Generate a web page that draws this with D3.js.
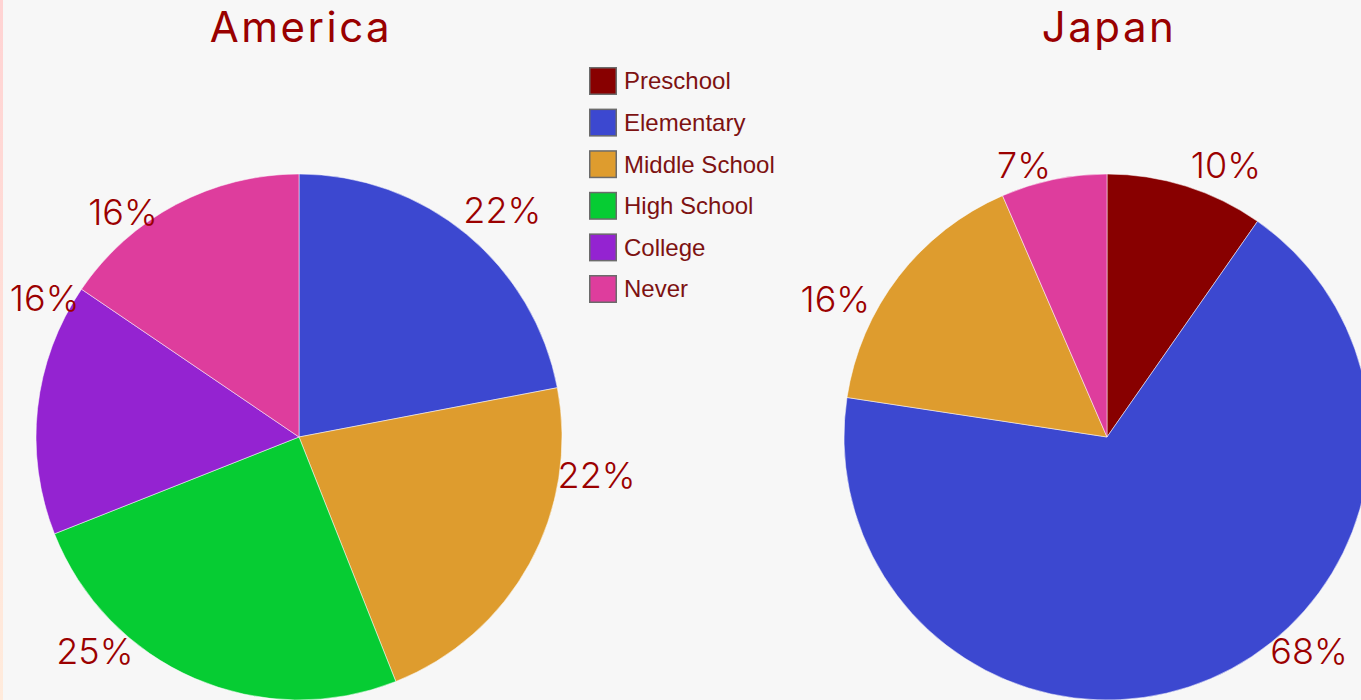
<!DOCTYPE html>
<html>
<head>
<meta charset="utf-8">
<script src="https://cdn.jsdelivr.net/npm/d3@7"></script>
<style>
  body { margin: 0; background: #f7f7f7; overflow: hidden; }
</style>
</head>
<body>
<div class="chart"></div>
<script>
// categories + values (percent)
const categories = ["Preschool", "Elementary", "Middle School", "High School", "College", "Never"];
const americaValues = [0, 22, 22, 25, 15.5, 15.5];
const japanValues = [9.7, 67.7, 16.1, 0, 0, 6.5];
const colors = ["#880000", "#3c48d0", "#de9c2e", "#06cc33", "#9423d1", "#de3d9d"];

// where each % label sits (degrees clockwise from top, radius in px) - placed by hand in the original
const americaLabelAngle = [0, 41.8, 97.3, 223.6, 298.7, 322];
const americaLabelRadius = [0, 305, 300, 296, 290, 286];
const japanLabelAngle = [23.6, 136.6, 297, 0, 0, 343];
const japanLabelRadius = [297, 294, 305, 0, 0, 284];

const width = 1361;
const height = 700;
const radius = 263;

const svg = d3.select('.chart')
    .append('svg')
    .attr('width', width)
    .attr('height', height)

// pinkish strip on the left edge
const grad = svg.append("defs").append("linearGradient")
    .attr("id", "edge")
    .attr("x1", 0).attr("y1", 0).attr("x2", 0).attr("y2", 1)
grad.append("stop").attr("offset", "0%").attr("stop-color", "#ffd3d3")
grad.append("stop").attr("offset", "100%").attr("stop-color", "#ffebdc")

svg.append("rect")
    .attr("width", width)
    .attr("height", height)
    .attr("fill", "#f7f7f7")
svg.append("rect")
    .attr("width", 3)
    .attr("height", height)
    .attr("fill", "url(#edge)")

const color = d3.scaleOrdinal().domain(categories).range(colors);

const pie = d3.pie()
    .sort(null)
    .value(function(d) { return d.value; });

const arc = d3.arc()
    .innerRadius(0)
    .outerRadius(radius);

function drawPie(title, values, labelAngle, labelRadius, cx, cy) {
    let data = categories.map(function(c, i) {
        return { name: c, value: values[i], la: labelAngle[i], lr: labelRadius[i] };
    });

    svg.append("text")
        .text(title)
        .attr("x", cx + 2)
        .attr("y", 42)
        .attr("text-anchor", "middle")
        .attr("font-family", "Inter, 'Open Sans', sans-serif")
        .attr("font-weight", 400)
        .attr("letter-spacing", 2.5)
        .attr("font-size", 42)
        .attr("fill", "#990000")

    let g = svg.append("g")
        .attr("transform", "translate(" + cx + "," + cy + ")")

    g.selectAll("path")
        .data(pie(data).filter(function(d) { return d.data.value > 0; }))
        .enter()
        .append("path")
        .attr("d", arc)
        .attr("fill", function(d) { return color(d.data.name); })
        .attr("stroke", "#fff")
        .attr("stroke-width", 1)
        .attr("stroke-opacity", 0.5)

    g.selectAll("text")
        .data(data.filter(function(d) { return d.value > 0; }))
        .enter()
        .append("text")
        .text(function(d) { return Math.round(d.value) + "%"; })
        .attr("transform", function(d) {
            const p = d3.pointRadial(d.la * Math.PI / 180, d.lr);
            return "translate(" + p[0] + "," + p[1] + ")";
        })
        .attr("text-anchor", "middle")
        .attr("dy", "0.36em")
        .attr("font-family", "Inter, 'Open Sans', sans-serif")
        .attr("font-weight", 300)
        .attr("font-size", 36)
        .attr("fill", "#9b0000")
}

drawPie("America", americaValues, americaLabelAngle, americaLabelRadius, 299, 437);
drawPie("Japan", japanValues, japanLabelAngle, japanLabelRadius, 1107, 437);

// legend
const legend = svg.append("g")
    .attr("transform", "translate(589,67)")

let rows = legend.selectAll("g")
    .data(categories)
    .enter()
    .append("g")
    .attr("transform", function(d, i) { return "translate(0," + (i * 41.6) + ")"; })

rows.append("rect")
    .attr("x", 0.75)
    .attr("y", 0.75)
    .attr("width", 26.5)
    .attr("height", 26.5)
    .attr("fill", function(d) { return color(d); })
    .attr("stroke", "#6b6b6b")
    .attr("stroke-width", 1.5)

rows.append("text")
    .text(function(d) { return d; })
    .attr("x", 35)
    .attr("y", 14)
    .attr("dy", "0.35em")
    .attr("font-family", "'Liberation Sans', Arial, sans-serif")
    .attr("font-size", 24)
    .attr("fill", "#7d1212")
</script>
</body>
</html>
